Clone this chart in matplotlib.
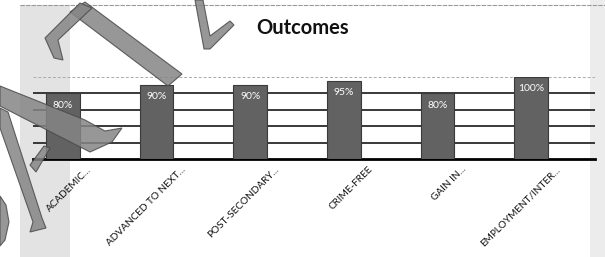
import matplotlib
matplotlib.use("Agg")
import matplotlib.pyplot as plt
from matplotlib.patches import Polygon, Rectangle
import matplotlib.transforms as mtransforms

plt.rcParams['font.family'] = ['Lato', 'DejaVu Sans']

categories = ["ACADEMIC...", "ADVANCED TO NEXT...", "POST-SECONDARY...",
              "CRIME-FREE", "GAIN IN...", "EMPLOYMENT/INTER..."]
values = [80, 90, 90, 95, 80, 100]
labels = ["80%", "90%", "90%", "95%", "80%", "100%"]

W, H = 605, 257
fig = plt.figure(figsize=(W / 100, H / 100), dpi=100)
fig.patch.set_facecolor('white')


def px(pts):
    # pixel coords (y down) -> figure fraction
    return [(x / W, 1 - y / H) for x, y in pts]


# scanned page texture on the edges
fig.add_artist(Rectangle((20 / W, 0), 50 / W, 1 - 5 / H, transform=fig.transFigure,
                         color='#e3e3e3', lw=0, zorder=0))
fig.add_artist(Rectangle((590 / W, 0), 15 / W, 1, transform=fig.transFigure,
                         color='#ececec', lw=0, zorder=0))
fig.add_artist(plt.Line2D([20 / W, 1], [1 - 5 / H, 1 - 5 / H], transform=fig.transFigure,
                          color='#9a9a9a', lw=0.8, ls=(0, (4, 1))))

ax = fig.add_axes([33 / W, (H - 159.3) / H, 562 / W, 82.8 / H])
ax.set_facecolor('none')

x = list(range(len(categories)))
ax.bar(x, values, width=0.36, color='#626262', edgecolor='#3a3a3a', lw=0.8, zorder=3)

for xi, v, lab in zip(x, values, labels):
    ax.annotate(lab, (xi, v), xytext=(0, -12), textcoords='offset pixels',
                ha='center', va='center', color='white', fontsize=7.5, zorder=4)

ax.set_xlim(-0.32, 5.68)
ax.set_ylim(0, 100)
ax.set_yticks([20, 40, 60, 80])
ax.yaxis.grid(True, color='#2a2a2a', lw=1.3, zorder=1)
ax.axhline(100, color='#aaaaaa', lw=0.7, ls=(0, (3, 2)), zorder=1)
ax.tick_params(axis='y', left=False, labelleft=False)
ax.tick_params(axis='x', length=0, pad=4)
for s in ['top', 'right', 'left']:
    ax.spines[s].set_visible(False)
ax.spines['bottom'].set_color('black')
ax.spines['bottom'].set_linewidth(2)

ax.set_xticks(x)
ax.set_xticklabels(categories, rotation=45, ha='right', va='top',
                   rotation_mode='anchor', fontsize=7.2, color='#111111')
shift = mtransforms.ScaledTranslation(24 / 100, 0, fig.dpi_scale_trans)
for t in ax.get_xticklabels():
    t.set_transform(t.get_transform() + shift)

fig.text(0.50, 1 - 28 / H, "Outcomes", ha='center', va='center',
         fontsize=14.5, fontweight='bold', color='#111111')

# handwritten "A" scribbled over the scan
strokes = [
    [(0, 86), (85, 120), (105, 131), (122, 128), (112, 142), (90, 152), (0, 106)],
    [(0, 108), (8, 112), (42, 218), (46, 228), (30, 232), (33, 222), (0, 128)],
    [(30, 165), (44, 146), (50, 148), (36, 172)],
    [(70, 12), (85, 2), (182, 74), (168, 86)],
    [(45, 38), (80, 3), (92, 8), (58, 40), (63, 60), (54, 58)],
    [(195, 0), (203, 0), (210, 36), (230, 21), (234, 25), (210, 49), (204, 49)],
    [(0, 196), (6, 205), (9, 222), (5, 240), (0, 246)],
]
for pts in strokes:
    fig.add_artist(Polygon(px(pts), closed=True, transform=fig.transFigure,
                           facecolor='#858585', edgecolor='#4a4a4a', lw=0.8,
                           alpha=0.85, zorder=5))

fig.savefig('out.png', dpi=100)
